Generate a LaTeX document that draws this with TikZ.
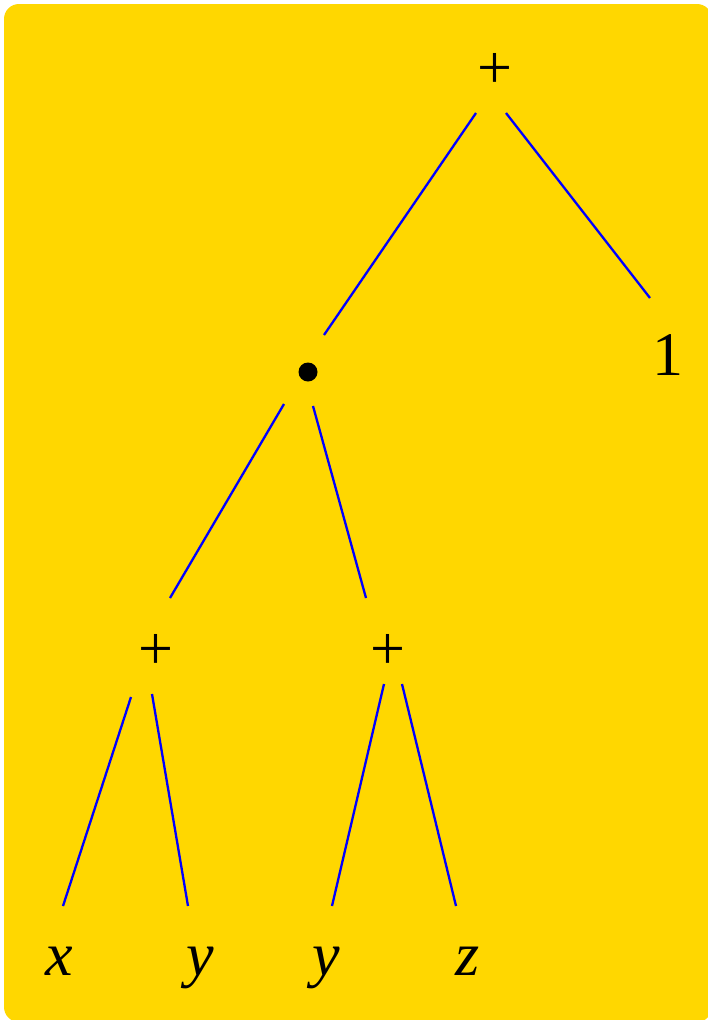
\documentclass[tikz,border=0pt]{standalone}
\usepackage{fontspec}
\setmainfont{Liberation Serif}
\usetikzlibrary{calc}
\definecolor{bggold}{RGB}{255,215,0}
\tikzset{
  lbl/.style={inner sep=0pt, font=\fontsize{62}{70}\selectfont, text=black},
  leaf/.style={lbl, anchor=base, font=\fontsize{62}{70}\selectfont\itshape},
  edge/.style={draw=blue, line width=2.3pt},
}
\begin{document}
\begin{tikzpicture}[x=1pt,y=-1pt]
\useasboundingbox (0,0) rectangle (707,1020);
\fill[bggold, rounded corners=15pt] (4,4) rectangle (712,1022);
\node[lbl] (root) at (495,71) {+};
\node[circle, fill=black, inner sep=0pt, minimum size=19pt] (dot) at (308,372) {};
\node[lbl] (one) at (668,355) {1};
\node[lbl] (pl) at (155.5,652) {+};
\node[lbl] (pr) at (387.5,652) {+};
\node[leaf] (x) at (59,975) {x};
\node[leaf] (y1) at (200,975) {y};
\node[leaf] (y2) at (326,975) {y};
\node[leaf] (z) at (468,975) {z};
\draw[edge] ($(root)+(-19,42)$) -- ($(dot)+(16,-37)$);
\draw[edge] ($(root)+(11,42)$) -- ($(one)+(-18,-57)$);
\draw[edge] ($(dot)+(-24,32)$) -- ($(pl)+(14.5,-54)$);
\draw[edge] ($(dot)+(5,34)$) -- ($(pr)+(-21.5,-54)$);
\draw[edge] ($(pl)+(-24.5,45)$) -- ($(x.base)+(4,-69)$);
\draw[edge] ($(pl)+(-3.5,42)$) -- ($(y1.base)+(-12,-69)$);
\draw[edge] ($(pr)+(-3.5,32)$) -- ($(y2.base)+(6,-69)$);
\draw[edge] ($(pr)+(14.5,32)$) -- ($(z.base)+(-12,-69)$);
\end{tikzpicture}
\end{document}
